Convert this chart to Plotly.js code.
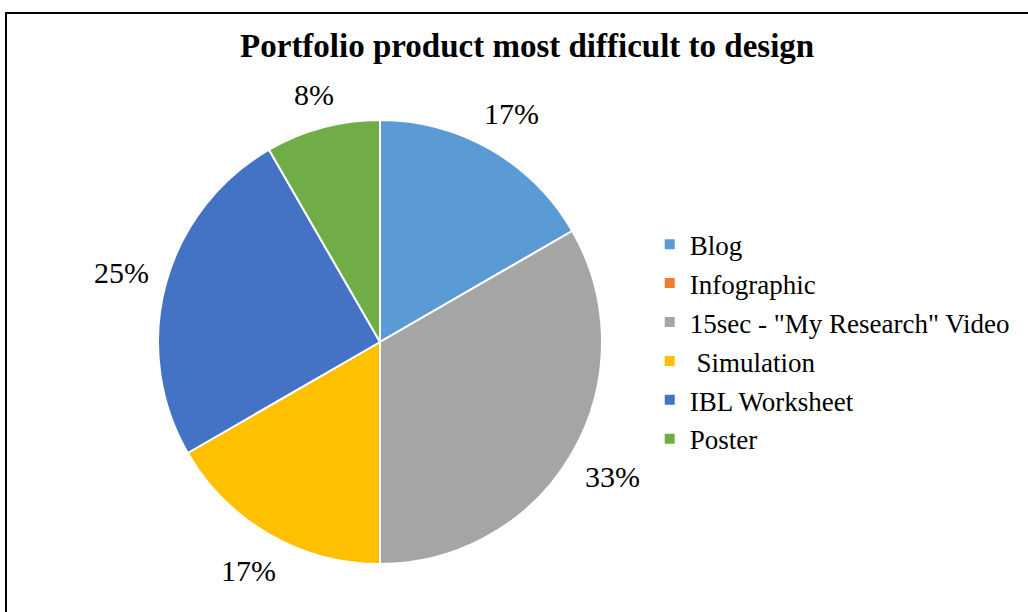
<!DOCTYPE html>
<html>
<head>
<meta charset="utf-8">
<script src="https://cdn.plot.ly/plotly-3.0.1.min.js"></script>
<style>
html,body{margin:0;padding:0;background:#fff;overflow:hidden;}
#frame{position:absolute;left:5px;top:12px;width:1040px;height:620px;border:2px solid #000;box-sizing:border-box;}
#chart{position:absolute;left:0;top:0;width:1030px;height:600px;}
</style>
</head>
<body>
<div id="frame"><div id="chart"></div></div>
<script>
const categories = ['Blog', 'Infographic', '15sec - "My Research" Video', ' Simulation', 'IBL Worksheet', 'Poster'];
const values = [2, 0, 4, 2, 3, 1];
const colors = ['#5B9BD5', '#ED7D31', '#A5A5A5', '#FFC000', '#4472C4', '#70AD47'];

const W = 1030, H = 600;
const cx = 373, cy = 272, R = 222;
const gap = 16;
const font = 'Liberation Serif, DejaVu Serif, serif';

const total = values.reduce((a, b) => a + b, 0);
const annotations = [];
let cum = 0;
values.forEach((v, i) => {
  const mid = (cum + v / 2) / total * 2 * Math.PI;
  cum += v;
  if (v === 0) return;
  const txt = Math.round(v / total * 100) + '%';
  const hw = txt.length * 18 / 2, hh = 14;
  const r = R + gap + Math.abs(hw * Math.sin(mid)) + Math.abs(hh * Math.cos(mid));
  annotations.push({
    xref: 'paper', yref: 'paper',
    x: (cx + r * Math.sin(mid)) / W,
    y: (cy + r * Math.cos(mid)) / H,
    text: txt,
    showarrow: false,
    xanchor: 'center', yanchor: 'middle',
    font: {family: font, size: 30, color: '#000'}
  });
});

const trace = {
  type: 'pie',
  labels: categories.map(c => '<span style="font-size:27px">' + c + '</span>'),
  values: values,
  sort: false,
  direction: 'clockwise',
  rotation: 0,
  textinfo: 'none',
  hoverinfo: 'label+percent',
  marker: {colors: colors, line: {color: '#ffffff', width: 2}},
  domain: {x: [(cx - R) / W, (cx + R) / W], y: [(cy - R) / H, (cy + R) / H]}
};

const layout = {
  width: W, height: H,
  margin: {l: 0, r: 0, t: 0, b: 0},
  paper_bgcolor: '#fff',
  font: {family: font, color: '#000'},
  title: {
    text: '<b>Portfolio product most difficult to design</b>',
    font: {family: font, size: 33, color: '#000'},
    x: 0.505, xref: 'paper', xanchor: 'center',
    y: 0.947, yref: 'paper', yanchor: 'middle'
  },
  showlegend: true,
  legend: {
    x: 0.624, xanchor: 'left',
    y: 0.657, yanchor: 'top',
    font: {family: font, size: 27.6, color: '#000'},
    bgcolor: 'rgba(0,0,0,0)'
  },
  annotations: annotations
};

Plotly.newPlot('chart', [trace], layout, {displayModeBar: false, staticPlot: true});
</script>
</body>
</html>
